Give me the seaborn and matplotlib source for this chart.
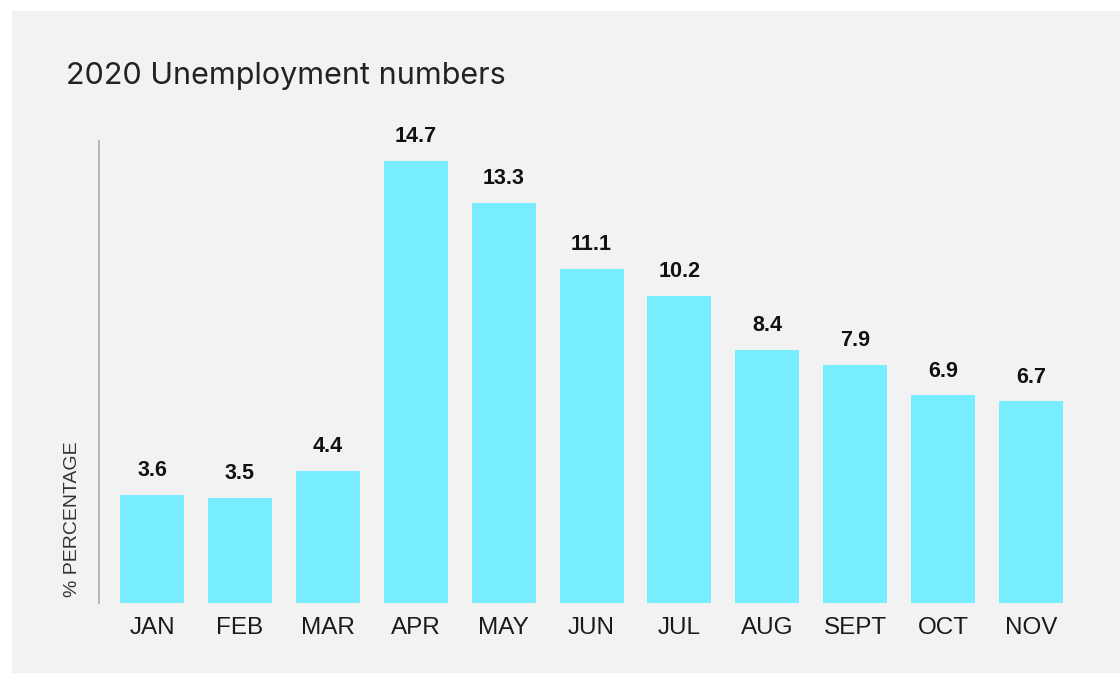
import matplotlib
matplotlib.use("Agg")
import matplotlib.pyplot as plt
import seaborn as sns
import pandas as pd
from matplotlib.patches import Rectangle

months = ["JAN", "FEB", "MAR", "APR", "MAY", "JUN", "JUL", "AUG", "SEPT", "OCT", "NOV"]
rates = [3.6, 3.5, 4.4, 14.7, 13.3, 11.1, 10.2, 8.4, 7.9, 6.9, 6.7]
title = "2020 Unemployment numbers"
ylabel = "% PERCENTAGE"

df = pd.DataFrame({"month": months, "rate": rates})

sns.set_theme(style="white")
plt.rcParams["font.family"] = ["Liberation Sans", "DejaVu Sans"]

W, H = 1120, 673
fig = plt.figure(figsize=(W / 100, H / 100), dpi=100)
fig.patch.set_facecolor("white")
bg = "#f2f2f2"
fig.patches.append(Rectangle((12 / W, 0), 1 - 12 / W, (H - 11) / H,
                             transform=fig.transFigure, facecolor=bg,
                             edgecolor="none", zorder=-10))

ax_l, ax_r, ax_t, ax_b = 99, 1090, 141, 603
ax = fig.add_axes([ax_l / W, (H - ax_b) / H, (ax_r - ax_l) / W, (ax_b - ax_t) / H])
ax.set_facecolor("none")

sns.barplot(data=df, x="month", y="rate", color="#78edff", width=0.728,
            saturation=1, ax=ax, order=months, linewidth=0, edgecolor="none")

ax.set_xlim(-0.603, 10.67)
ax.set_ylim(0, 15.36)

for i, v in enumerate(rates):
    ax.annotate(f"{v}", (i, v), xytext=(0, 10), textcoords="offset points",
                ha="center", va="bottom", fontsize=15.5, fontweight="bold",
                color="#111111")

for s in ["top", "right", "bottom"]:
    ax.spines[s].set_visible(False)
ax.spines["left"].set_color("#aaaaaa")
ax.spines["left"].set_linewidth(1.2)

ax.set_yticks([])
ax.tick_params(axis="x", length=0, pad=10, labelsize=17.5, labelcolor="#1a1a1a")
ax.set_xlabel("")
ax.set_ylabel(ylabel, fontsize=14, color="#333333", loc="bottom", labelpad=13)
ax.yaxis.label.set_position((0, 6 / (ax_b - ax_t)))

fig.text(66 / W, (H - 84) / H, title, fontsize=22, color="#222222",
         ha="left", va="baseline", family=["Inter", "Liberation Sans", "DejaVu Sans"],
         fontweight="normal")

fig.savefig("out.png", dpi=100, facecolor=fig.get_facecolor())
